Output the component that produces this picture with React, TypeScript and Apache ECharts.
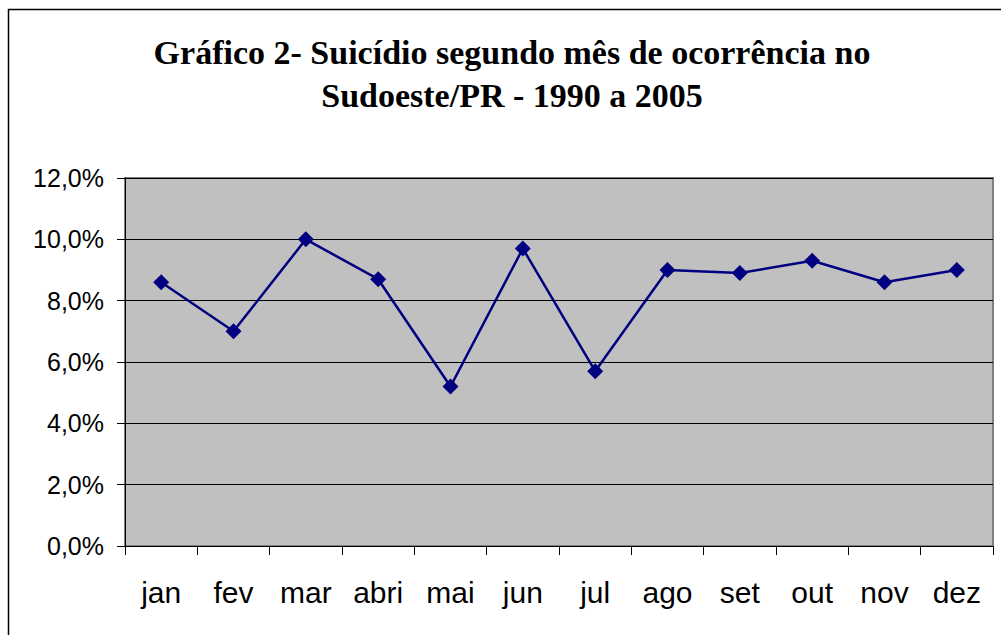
import React, { useEffect, useRef } from "react";
import * as echarts from "echarts";

const months = ["jan", "fev", "mar", "abri", "mai", "jun", "jul", "ago", "set", "out", "nov", "dez"];
const values = [8.6, 7.0, 10.0, 8.7, 5.2, 9.7, 5.7, 9.0, 8.9, 9.3, 8.6, 9.0];
const titleLines = ["Gráfico 2- Suicídio segundo mês de ocorrência no", "Sudoeste/PR - 1990 a 2005"];

export default function App() {
  const ref = useRef<HTMLDivElement>(null);
  useEffect(() => {
    const chart = echarts.init(ref.current!, null, { renderer: "svg" });
    const titleFont = "bold 34px 'Liberation Serif', 'Times New Roman', serif";
    chart.setOption({
      animation: false,
      backgroundColor: "#ffffff",
      graphic: [
        {
          type: "rect",
          shape: { x: 8.5, y: 9.5, width: 1100, height: 700 },
          style: { fill: "none", stroke: "#000000", lineWidth: 1.5 },
          silent: true,
        },
        {
          type: "text",
          x: 512,
          y: 69,
          style: {
            text: titleLines[0],
            font: titleFont,
            fill: "#000",
            align: "center",
            verticalAlign: "bottom",
          },
        },
        {
          type: "text",
          x: 512,
          y: 112,
          style: {
            text: titleLines[1],
            font: titleFont,
            fill: "#000",
            align: "center",
            verticalAlign: "bottom",
          },
        },
      ],
      grid: {
        left: 125,
        top: 178,
        width: 868,
        height: 368,
        show: true,
        backgroundColor: "#C0C0C0",
        borderColor: "#808080",
        borderWidth: 2,
      },
      xAxis: {
        type: "category",
        data: months,
        boundaryGap: true,
        axisLine: { lineStyle: { color: "#000", width: 1 } },
        axisTick: { show: true, length: 9, lineStyle: { color: "#000" } },
        axisLabel: {
          color: "#000",
          fontFamily: "Liberation Sans",
          fontSize: 30,
          margin: 31,
          interval: 0,
        },
        splitLine: { show: false },
      },
      yAxis: {
        type: "value",
        min: 0,
        max: 12,
        interval: 2,
        axisLine: { show: true, lineStyle: { color: "#000", width: 1 } },
        axisTick: { show: true, length: 8, lineStyle: { color: "#000" } },
        axisLabel: {
          color: "#000",
          fontFamily: "Liberation Sans",
          fontSize: 25,
          margin: 21,
          formatter: (v: number) => v.toFixed(1).replace(".", ",") + "%",
        },
        splitLine: { show: true, lineStyle: { color: "#000", width: 1 } },
      },
      series: [
        {
          type: "line",
          data: values,
          symbol: "diamond",
          symbolSize: 16,
          lineStyle: { color: "#000080", width: 2.5 },
          itemStyle: { color: "#000080" },
        },
      ],
    });
    return () => chart.dispose();
  }, []);
  return (
    <div
      ref={ref}
      style={{ position: "fixed", left: 0, top: 0, width: 1001, height: 635 }}
    />
  );
}
